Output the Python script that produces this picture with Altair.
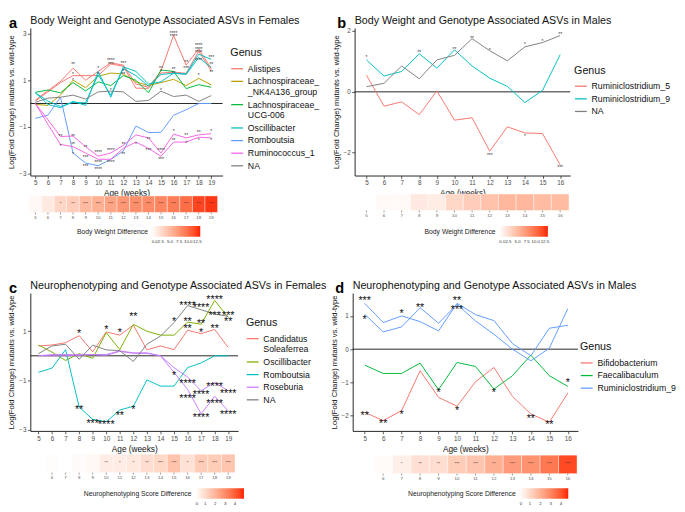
import altair as alt
import pandas as pd

FONT = "Liberation Sans"

# ---------------- data ----------------
weeks_a = list(range(5, 20))
weeks_b = list(range(5, 17))
weeks_c = list(range(5, 20))
weeks_d = list(range(5, 17))

# Panel a: body weight & genotype ASVs, females
alistipes_1 = [0.15, 0.55, 0.95, 1.52, 1.0, 1.38, 1.75, 1.65, 0.84, 0.7, 1.4, 2.93, 1.65, 2.35, 1.5]
alistipes_2 = [0.1, 0.5, 0.9, 1.2, 1.2, 1.2, 1.7, 1.6, 0.66, 0.65, 1.31, 1.35, 1.3, 2.25, 1.4]
nk4a136 = [-0.04, -0.08, 0.36, 1.0, 0.68, 1.17, 1.31, 1.27, 0.93, 0.77, 0.9, 1.04, 0.77, 1.08, 0.8]
ucg006 = [0.48, 0.58, 0.46, 0.9, 0.54, 0.93, 0.77, 1.2, 1.0, 0.46, 1.44, 1.38, 0.64, 0.81, 0.7]
oscill_a1 = [0.46, -0.04, -0.18, 0.09, -0.08, 1.38, 0.27, 1.58, 1.38, 0.84, 0.93, 1.31, 1.27, 2.12, 1.9]
oscill_a2 = [0.46, 0.1, -0.13, 0.05, 0.03, 1.24, 0.36, 1.51, 1.2, 0.75, 1.25, 1.3, 1.25, 1.98, 1.55]
rombo_a = [-0.64, -0.5, 0.27, -2.13, -2.56, -2.68, -2.4, -2.05, -0.97, -1.25, -1.24, -0.51, -0.27, 0.0, 0.0]
rumino_1 = [0.0, -0.7, -1.42, -1.4, -1.86, -2.27, -2.13, -1.8, -1.35, -1.48, -2.13, -1.32, -1.48, -1.35, -1.3]
rumino_2 = [0.0, -0.9, -1.76, -1.86, -2.13, -2.4, -2.4, -1.93, -1.66, -1.93, -2.27, -1.66, -1.66, -1.45, -1.48]
na_a = [0.05, 0.23, 0.27, 0.36, 0.19, 0.5, 0.53, 0.5, 0.09, 0.13, 0.53, 0.3, 0.36, 0.09, 0.34]

genus_a = ["Alistipes", "Lachnospiraceae_NK4A136_group", "Lachnospiraceae_UCG-006",
           "Oscillibacter", "Romboutsia", "Ruminococcus_1", "NA"]
colors_a = ["#F8766D", "#B79F00", "#00BA38", "#00BFC4", "#619CFF", "#F564E3", "#808080"]

stars_a_week = [8, 8, 8, 10, 10, 11, 11, 11, 12, 12, 12, 15, 15, 15, 16, 16, 16, 16, 17, 17,
                18, 18, 18, 18, 18, 19, 19, 19,
                7, 7, 8, 8, 8, 9, 9, 9, 10, 10, 10, 11, 11, 12, 12, 13, 14, 14, 15, 15,
                16, 16, 17, 17, 18, 18, 19, 19]
stars_a_value = [1.72, 1.3, 1.05, 1.55, 1.32, 1.92, 1.75, 0.6, 1.78, 1.45, 1.3, 1.58, 1.45, 0.62,
                 3.08, 2.92, 1.5, 1.35, 1.8, 1.55, 2.55, 2.4, 2.25, 1.9, 1.25, 2.05, 1.75, 1.4,
                 -1.35, -1.8, -1.35, -1.7, -2.15, -1.85, -2.25, -2.65, -2.05, -2.5, -2.8,
                 -1.95, -2.5, -1.7, -2.15, -1.7, -1.5, -1.95, -1.95, -2.35, -1.15, -1.55,
                 -1.3, -1.65, -1.2, -1.55, -1.15, -1.55]
stars_a_label = ["**", "*", "*", "*", "*", "****", "***", "*", "***", "*", "**", "**", "*", "*",
                 "****", "****", "**", "**", "**", "***", "****", "****", "****", "****", "*",
                 "***", "**", "**",
                 "**", "*", "**", "**", "*", "**", "***", "***", "****", "****", "****",
                 "****", "****", "**", "**", "*", "**", "***", "****", "***", "*", "**",
                 "**", "*", "**", "*", "*", "*"]

# Panel b: body weight & genotype ASVs, males
rumin5_b = [0.55, -0.47, -0.33, -0.75, 0.03, -0.93, -0.85, -1.95, -1.15, -1.35, -1.37, -2.4]
rumin9_b = [1.05, 0.52, 0.67, 1.25, 0.78, 1.38, 0.85, 0.45, 0.18, -0.35, 0.05, 1.22]
na_b = [0.17, 0.28, 0.85, 0.43, 1.05, 1.2, 1.75, 1.35, 1.02, 1.48, 1.62, 1.85]
genus_b = ["Ruminiclostridium_5", "Ruminiclostridium_9", "NA"]
colors_b = ["#F8766D", "#00BFC4", "#808080"]
stars_b_week = [5, 8, 10, 11, 12, 14, 15, 16, 12, 14, 16]
stars_b_value = [1.17, 1.34, 1.44, 1.8, 1.39, 1.6, 1.69, 1.93, -2.06, -1.44, -2.45]
stars_b_label = ["*", "**", "**", "**", "*", "*", "*", "**", "***", "*", "***"]

# Panel c: neurophenotyping & genotype ASVs, females
cand_c = [0.4, 0.44, 0.53, 0.82, 0.16, 0.97, 0.84, 1.25, 0.24, 0.4, 0.25, 1.04, 0.9, 1.07, 0.34]
oscill_c = [0.44, 0.15, -0.19, 0.09, -0.1, 0.94, 0.25, 1.28, 1.0, 0.84, 0.84, 1.37, 1.28, 2.25, 1.56]
rombo_c = [-0.67, -0.5, 0.25, -2.08, -2.58, -2.68, -2.2, -2.05, -0.98, -1.23, -1.23, -0.48, -0.29, 0.0, 0.0]
roseb_c1 = [0.0, 0.05, 0.05, 0.05, 0.05, 0.05, 0.2, 0.12, 0.12, 0.0, -0.48, -0.86, -1.42, -1.08, -1.42]
roseb_c2 = [0.0, 0.0, 0.0, 0.02, 0.05, 0.02, 0.18, 0.1, 0.1, 0.0, -0.67, -1.36, -2.36, -1.64, -2.24]
na_c = [0.09, 0.4, 0.47, -0.14, 0.43, 0.24, 0.21, -0.23, 0.47, 0.8, 1.35, 2.04, 1.87, 1.7, 1.6]
genus_c = ["Candidatus Soleaferrea", "Oscillibacter", "Romboutsia", "Roseburia", "NA"]
colors_c = ["#F8766D", "#7CAE00", "#00BFC4", "#C77CFF", "#808080"]
stars_c_week = [8, 10, 11, 12, 15, 16, 16, 16, 17, 17, 17, 18, 18, 18, 19, 19,
                8, 9, 10, 11, 12, 15, 16, 16, 17, 17, 18, 18, 19, 19]
stars_c_value = [1.03, 1.18, 1.07, 1.7, 1.5, 2.16, 1.5, 1.2, 2.06, 1.41, 1.07, 2.38, 1.75, 1.22, 1.75, 1.5,
                 -2.09, -2.62, -2.69, -2.3, -2.08, -0.69, -1.0, -1.64, -1.46, -2.39, -1.12, -1.81, -1.41, -2.29]
stars_c_label = ["*", "*", "*", "**", "*", "****", "**", "**", "****", "**", "*", "****", "***", "**", "***", "**",
                 "**", "***", "****", "**", "*", "*", "****", "****", "****", "****", "****", "****", "****", "****"]

# Panel d: neurophenotyping & genotype ASVs, males
bifido_d = [-1.9, -2.15, -1.85, -0.65, -1.45, -1.72, -0.98, -0.55, -1.42, -1.95, -2.2, -1.32]
faecal_d = [-0.48, -0.73, -0.73, -0.42, -1.22, -0.4, -0.52, -1.2, -0.8, -0.18, -0.8, -1.12]
rumin9_d1 = [1.38, 0.8, 1.0, 0.83, 0.55, 1.38, 1.04, 0.86, 0.17, -0.2, 0.63, 0.72]
rumin9_d2 = [1.05, 0.52, 0.67, 1.25, 0.78, 1.35, 0.85, 0.45, 0.0, -0.35, 0.03, 1.22]
genus_d = ["Bifidobacterium", "Faecalibaculum", "Ruminiclostridium_9"]
colors_d = ["#F8766D", "#00BA38", "#619CFF"]
stars_d_week = [5, 5, 5, 6, 7, 7, 8, 9, 10, 10, 10, 12, 14, 15, 16]
stars_d_value = [1.55, 0.96, -1.91, -2.16, 1.16, -1.88, 1.35, -1.22, 1.55, 1.29, -1.77, -1.22, -2.0, -2.2, -0.93]
stars_d_label = ["***", "*", "**", "**", "*", "*", "**", "*", "**", "***", "*", "*", "**", "**", "*"]

# Heatmaps (difference between genotypes per week)
heat_a_week = list(range(5, 20))
heat_a_value = [0.5, 1.5, 3.0, 3.6, 5.0, 5.6, 6.5, 7.4, 7.9, 8.1, 8.5, 9.0, 10.0, 12.0, 12.6]
heat_a_sig = ["", "", "*", "**", "***", "***", "***", "***", "***", "***", "***", "***", "***", "***", "***"]
heat_b_week = list(range(6, 17))
heat_b_value = [0.4, 0.4, 1.6, 1.4, 2.9, 3.6, 4.4, 5.1, 5.1, 4.8, 4.8]
heat_b_sig = [""] * 11
heat_c_week = list(range(6, 20))
heat_c_value = [0.05, 0.0, 0.1, 0.2, 0.5, 0.5, 0.6, 0.9, 1.05, 1.6, 0.8, 1.35, 1.35, 1.55]
heat_c_sig = ["", "", "", "", "**", "*", "*", "**", "***", "***", "*", "***", "***", "***"]
heat_d_week = list(range(6, 17))
heat_d_value = [0.1, 0.4, 0.8, 0.85, 1.3, 1.5, 2.0, 2.5, 2.7, 3.3, 4.2]
heat_d_sig = ["", "*", "**", "**", "***", "***", "**", "***", "***", "***", "***"]

heat_ticks_a = list(range(5, 20))
heat_ticks_b = list(range(5, 17))
heat_ticks_c = list(range(6, 20))
heat_ticks_d = list(range(6, 17))

LABEL_EXPR = ("datum.label == 'Lachnospiraceae_NK4A136_group' ? ['Lachnospiraceae_', '  _NK4A136_group'] : "
              "datum.label == 'Lachnospiraceae_UCG-006' ? ['Lachnospiraceae_', '     UCG-006'] : "
              "datum.label == 'Candidatus Soleaferrea' ? ['Candidatus', '      Soleaferrea'] : datum.label")


def panel(series, weeks, xdom, ydom, yticks, w, h, genus_order, colors, title,
          letter, letter_x, leg_x, leg_y, st_w, st_v, st_l, st_size, st_color,
          hw, hv, hs, hticks, hy, hh, fdom, ltitle, lvalues, lformat, hleg_x, hleg_y):
    rows = []
    for asv, genus, vals in series:
        for wk, v in zip(weeks, vals):
            rows.append({"week": wk, "value": v, "genus": genus, "asv": asv})
    df = pd.DataFrame(rows)
    sx = alt.Scale(domain=xdom, nice=False, zero=False)
    sy = alt.Scale(domain=ydom, nice=False, zero=False)
    xaxis = alt.Axis(values=weeks, title="Age (weeks)", format="d")
    X = alt.X("week:Q", scale=sx, axis=xaxis)
    Y = alt.Y("value:Q", scale=sy,
              axis=alt.Axis(values=yticks, title="Log(Fold Change) mutants vs. wild-type", format="d",
                            titleFontSize=7.8))

    zero = alt.Chart(pd.DataFrame({"z": [0]})).mark_rule(color="#222", strokeWidth=1).encode(
        y=alt.datum(0))
    lines = alt.Chart(df).mark_line(strokeWidth=1).encode(
        x=X, y=Y,
        color=alt.Color("genus:N", scale=alt.Scale(domain=genus_order, range=colors),
                        legend=alt.Legend(title="Genus", orient="none", legendX=leg_x, legendY=leg_y,
                                          titleFontSize=11, titleFontWeight="normal", titleColor="#111",
                                          labelFontSize=9, labelColor="#111", symbolType="stroke",
                                          symbolStrokeWidth=1.3, symbolSize=150, rowPadding=1,
                                          titlePadding=4, labelLimit=200, labelExpr=LABEL_EXPR)),
        detail="asv:N")
    sdf = pd.DataFrame({"week": st_w, "value": st_v, "label": st_l})
    stars = alt.Chart(sdf).mark_text(fontSize=st_size, color=st_color, baseline="alphabetic",
                                     dy=0.58 * st_size, font=FONT).encode(x=X, y=Y, text="label:N")
    head = alt.Chart(pd.DataFrame({"t": [letter], "title": [title]}))
    let = head.mark_text(
        fontSize=15, fontWeight="bold", align="left", baseline="alphabetic", font=FONT, color="#000"
    ).encode(text="t:N", x=alt.value(letter_x), y=alt.value(0))
    ttl = head.mark_text(
        fontSize=11, align="left", baseline="alphabetic", font=FONT, color="#111"
    ).encode(text="title:N", x=alt.value(0), y=alt.value(-4))

    # heatmap strip below the panel, on the same week scale
    hdf = pd.DataFrame({"week": hw, "diff": hv, "sig": hs})
    rect = alt.Chart(hdf).transform_calculate(
        lo="datum.week - 0.5", hi="datum.week + 0.5"
    ).mark_rect(stroke="white", strokeWidth=0.4).encode(
        x=alt.X("lo:Q", scale=sx, axis=xaxis), x2="hi:Q",
        y=alt.value(hy), y2=alt.value(hy + hh),
        fill=alt.Fill("diff:Q", scale=alt.Scale(domain=fdom, range=["#ffffff", "#ff1e00"], interpolate="lab"),
                      legend=alt.Legend(orient="none", legendX=hleg_x, legendY=hleg_y, direction="horizontal",
                                        title=ltitle, titleOrient="left", titleFontSize=7,
                                        titleFontWeight="normal", titleColor="#222", labelFontSize=4.5,
                                        labelColor="#333", gradientLength=50, gradientThickness=11,
                                        values=lvalues, format=lformat, titlePadding=3,
                                        labelOverlap=False)))
    hsig = alt.Chart(hdf).mark_text(fontSize=4.5, color="#333", baseline="middle", font=FONT).encode(
        x=X, y=alt.value(hy + hh / 2), text="sig:N")
    tdf = pd.DataFrame({"week": hticks})
    hticks_m = alt.Chart(tdf).mark_rule(color="#555", strokeWidth=0.6).encode(
        x=X, y=alt.value(hy + hh), y2=alt.value(hy + hh + 2))
    hlabels = alt.Chart(tdf).mark_text(fontSize=4.5, color="#555", baseline="top", font=FONT).encode(
        x=X, y=alt.value(hy + hh + 3), text=alt.Text("week:Q", format="d"))

    return alt.layer(zero, lines, stars, let, ttl, rect, hsig, hticks_m, hlabels).properties(
        width=w, height=h)


panel_a = panel(
    [("a1", "Alistipes", alistipes_1), ("a2", "Alistipes", alistipes_2),
     ("a3", "Lachnospiraceae_NK4A136_group", nk4a136), ("a4", "Lachnospiraceae_UCG-006", ucg006),
     ("a5", "Oscillibacter", oscill_a1), ("a6", "Oscillibacter", oscill_a2),
     ("a7", "Romboutsia", rombo_a), ("a8", "Ruminococcus_1", rumino_1),
     ("a9", "Ruminococcus_1", rumino_2), ("a10", "NA", na_a)],
    weeks_a, [4.6, 19.9], [-3.1, 3.25], [-3, -2, -1, 0, 1, 2, 3], 198, 152, genus_a, colors_a,
    "Body Weight and Genotype Associated ASVs in Females", "a", -22, 206, 20,
    stars_a_week, stars_a_value, stars_a_label, 5, "#333",
    heat_a_week, heat_a_value, heat_a_sig, heat_ticks_a, 173, 17,
    [0, 13.3], "Body Weight Difference", [0, 2.5, 5, 7.5, 10, 12.5], ".1f", 48, 204)

panel_b = panel(
    [("b1", "Ruminiclostridium_5", rumin5_b), ("b2", "Ruminiclostridium_9", rumin9_b), ("b3", "NA", na_b)],
    weeks_b, [4.33, 16.57], [-2.75, 2.1], [-2, -1, 0, 1, 2], 222, 152, genus_b, colors_b,
    "Body Weight and Genotype Associated ASVs in Males", "b", -18, 226, 38,
    stars_b_week, stars_b_value, stars_b_label, 5, "#333",
    heat_b_week, heat_b_value, heat_b_sig, heat_ticks_b, 171, 17,
    [0, 13.3], "Body Weight Difference", [0, 2.5, 5, 7.5, 10, 12.5], ".1f", 72, 204)

panel_c = panel(
    [("c1", "Candidatus Soleaferrea", cand_c), ("c2", "Oscillibacter", oscill_c),
     ("c3", "Romboutsia", rombo_c), ("c4", "Roseburia", roseb_c1), ("c5", "Roseburia", roseb_c2),
     ("c6", "NA", na_c)],
    weeks_c, [4.4, 19.73], [-3.05, 2.55], [-3, -2, -1, 0, 1, 2], 214, 142, genus_c, colors_c,
    "Neurophenotyping and Genotype Associated ASVs in Females", "c", -22, 222, 25,
    stars_c_week, stars_c_value, stars_c_label, 11, "#111",
    heat_c_week, heat_c_value, heat_c_sig, heat_ticks_c, 166, 19,
    [0, 4.9], "Neurophenotyping Score Difference", [0, 1, 2, 3, 4], "d", 55, 201)

panel_d = panel(
    [("d1", "Bifidobacterium", bifido_d), ("d2", "Faecalibaculum", faecal_d),
     ("d3", "Ruminiclostridium_9", rumin9_d1), ("d4", "Ruminiclostridium_9", rumin9_d2)],
    weeks_d, [4.35, 16.55], [-2.46, 1.69], [-2, -1, 0, 1], 232, 142, genus_d, colors_d,
    "Neurophenotyping and Genotype Associated ASVs in Males", "d", -18, 234, 50,
    stars_d_week, stars_d_value, stars_d_label, 11, "#111",
    heat_d_week, heat_d_value, heat_d_sig, heat_ticks_d, 167, 19,
    [0, 4.7], "Neurophenotyping Score Difference", [0, 1, 2, 3, 4], "d", 57, 201)

RES = dict(x="independent", y="independent", color="independent", fill="independent")

row1 = alt.hconcat(panel_a, panel_b, spacing=13).resolve_scale(**RES)
row2 = alt.hconcat(panel_c, panel_d, spacing=2).resolve_scale(**RES)

chart = alt.vconcat(row1, row2, spacing=38).resolve_scale(**RES).properties(
    padding=0
).configure(font=FONT).configure_view(stroke=None).configure_axis(
    domainColor="#222", domainWidth=1, tickColor="#333", tickWidth=0.8, tickSize=3,
    labelColor="#4d4d4d", labelFont=FONT, titleFont=FONT, titleFontWeight="normal",
    titleColor="#111", grid=False, labelFontSize=6.5, titleFontSize=8.5,
    labelPadding=1.5, titlePadding=3
)

chart.save("out.html", embed_options={"renderer": "svg", "actions": False})
